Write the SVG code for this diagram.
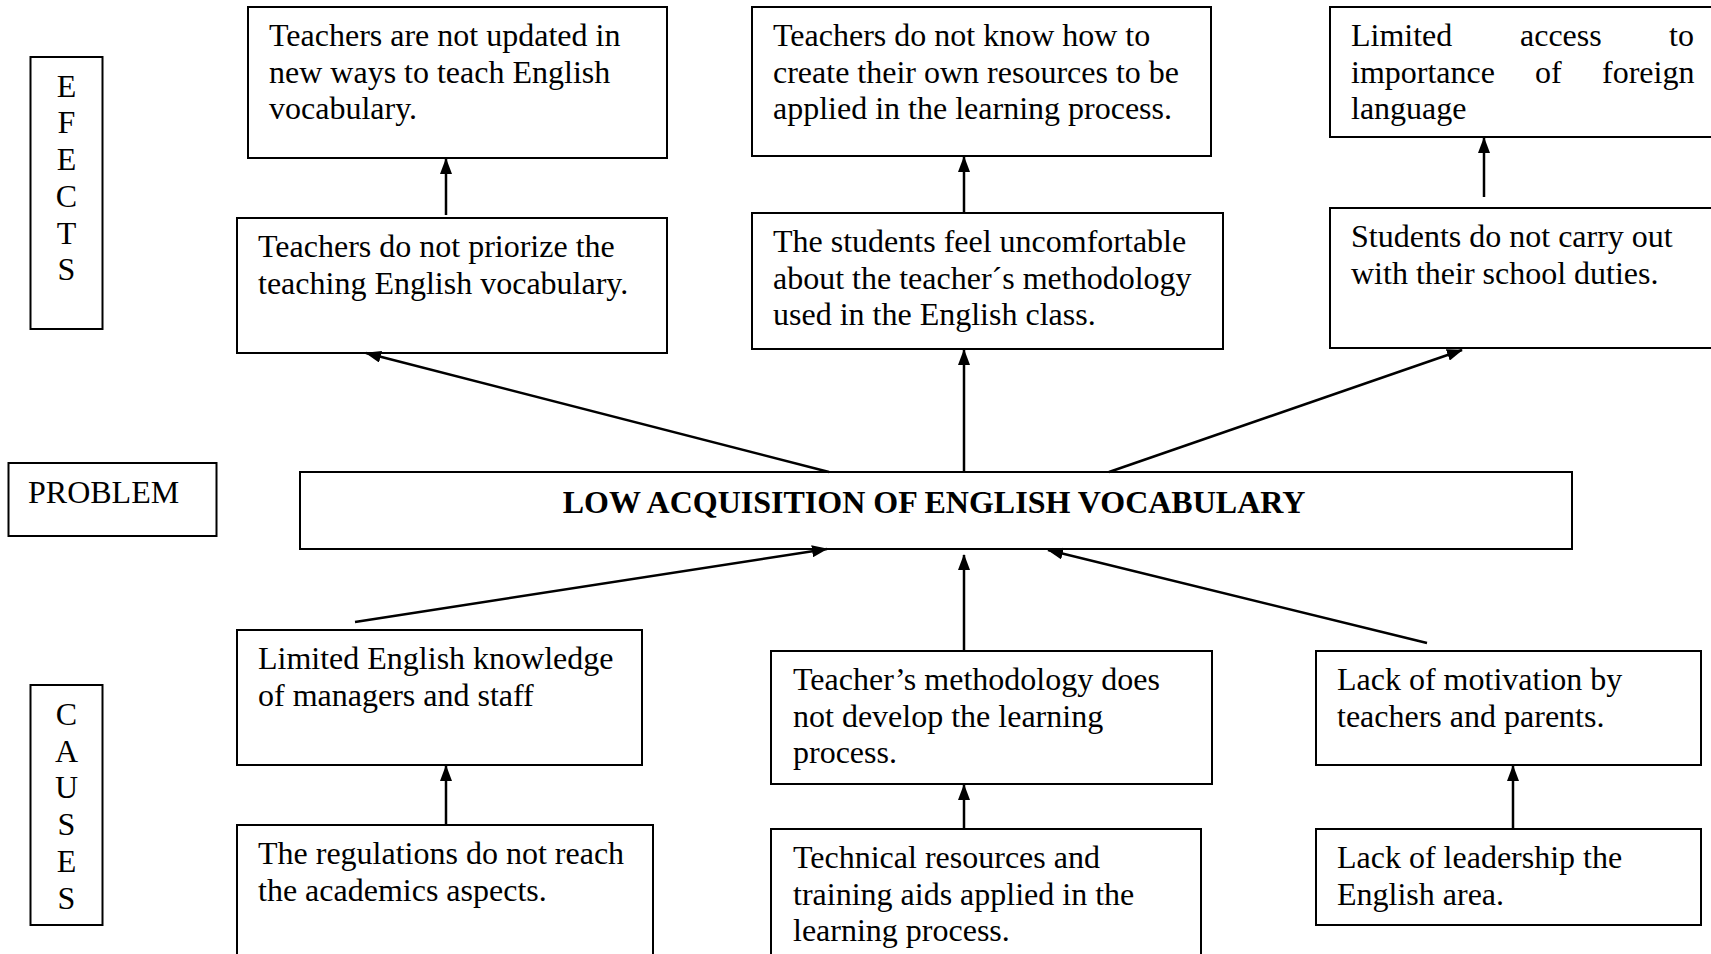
<svg xmlns="http://www.w3.org/2000/svg" width="1711" height="954" viewBox="0 0 1711 954">
<style>
.box{fill:#fff;stroke:#000;stroke-width:2}
text{font-family:"Liberation Serif","Times New Roman",serif;font-size:32px;fill:#000}
.b{font-weight:bold}
.m{text-anchor:middle}
.c{stroke:#000;stroke-width:2.5;fill:none;marker-end:url(#ah)}
</style>
<defs>
<marker id="ah" markerUnits="userSpaceOnUse" markerWidth="16" markerHeight="12" refX="15" refY="6" orient="auto">
<path d="M0,0 L16,6 L0,12 z" fill="#000"/>
</marker>
</defs>
<rect width="1711" height="954" fill="#fff"/>

<g id="label-efects">
<rect class="box" x="30.5" y="57" width="72" height="272"/>
<text class="m" x="66.5" y="96.7">E</text>
<text class="m" x="66.5" y="133.4">F</text>
<text class="m" x="66.5" y="170.1">E</text>
<text class="m" x="66.5" y="206.8">C</text>
<text class="m" x="66.5" y="243.5">T</text>
<text class="m" x="66.5" y="280.2">S</text>
</g>

<g id="label-problem">
<rect class="box" x="8.5" y="463" width="208" height="73"/>
<text x="28" y="503">PROBLEM</text>
</g>

<g id="label-causes">
<rect class="box" x="30.5" y="685" width="72" height="240"/>
<text class="m" x="66.5" y="725">C</text>
<text class="m" x="66.5" y="761.7">A</text>
<text class="m" x="66.5" y="798.4">U</text>
<text class="m" x="66.5" y="835.1">S</text>
<text class="m" x="66.5" y="871.8">E</text>
<text class="m" x="66.5" y="908.5">S</text>
</g>

<g id="effect-a1">
<rect class="box" x="248" y="7" width="419" height="151"/>
<text x="269" y="46">Teachers are not updated in</text>
<text x="269" y="82.7">new ways to teach English</text>
<text x="269" y="119.4">vocabulary.</text>
</g>

<g id="effect-a2">
<rect class="box" x="237" y="218" width="430" height="135"/>
<text x="258" y="257">Teachers do not priorize the</text>
<text x="258" y="293.7">teaching English vocabulary.</text>
</g>

<g id="effect-b1">
<rect class="box" x="752" y="7" width="459" height="149"/>
<text x="773" y="46">Teachers do not know how to</text>
<text x="773" y="82.7">create their own resources to be</text>
<text x="773" y="119.4">applied in the learning process.</text>
</g>

<g id="effect-b2">
<rect class="box" x="752" y="213" width="471" height="136"/>
<text x="773" y="252">The students feel uncomfortable</text>
<text x="773" y="288.7">about the teacher´s methodology</text>
<text x="773" y="325.4">used in the English class.</text>
</g>

<g id="effect-c1">
<rect class="box" x="1330" y="7" width="384" height="130"/>
<text y="46"><tspan x="1351">Limited</tspan><tspan x="1520">access</tspan><tspan x="1669">to</tspan></text>
<text y="82.7"><tspan x="1351">importance</tspan><tspan x="1535">of</tspan><tspan x="1602">foreign</tspan></text>
<text x="1351" y="119.4">language</text>
</g>

<g id="effect-c2">
<rect class="box" x="1330" y="208" width="384" height="140"/>
<text x="1351" y="247">Students do not carry out</text>
<text x="1351" y="283.7">with their school duties.</text>
</g>

<g id="problem">
<rect class="box" x="300" y="472" width="1272" height="77"/>
<text class="b m" x="934" y="513">LOW ACQUISITION OF ENGLISH VOCABULARY</text>
</g>

<g id="cause-d1">
<rect class="box" x="237" y="630" width="405" height="135"/>
<text x="258" y="669">Limited English knowledge</text>
<text x="258" y="705.7">of managers and staff</text>
</g>

<g id="cause-d2">
<rect class="box" x="237" y="825" width="416" height="140"/>
<text x="258" y="864">The regulations do not reach</text>
<text x="258" y="900.7">the academics aspects.</text>
</g>

<g id="cause-e1">
<rect class="box" x="771" y="651" width="441" height="133"/>
<text x="793" y="690">Teacher’s methodology does</text>
<text x="793" y="726.7">not develop the learning</text>
<text x="793" y="763.4">process.</text>
</g>

<g id="cause-e2">
<rect class="box" x="771" y="829" width="430" height="140"/>
<text x="793" y="868">Technical resources and</text>
<text x="793" y="904.7">training aids applied in the</text>
<text x="793" y="941.4">learning process.</text>
</g>

<g id="cause-f1">
<rect class="box" x="1316" y="651" width="385" height="114"/>
<text x="1337" y="690">Lack of motivation by</text>
<text x="1337" y="726.7">teachers and parents.</text>
</g>

<g id="cause-f2">
<rect class="box" x="1316" y="829" width="385" height="96"/>
<text x="1337" y="868">Lack of leadership the</text>
<text x="1337" y="904.7">English area.</text>
</g>

<g id="connectors">
<line class="c" x1="446" y1="215" x2="446" y2="159"/>
<line class="c" x1="964" y1="212" x2="964" y2="157"/>
<line class="c" x1="1484" y1="197" x2="1484" y2="138"/>
<line class="c" x1="829" y1="472" x2="366" y2="353"/>
<line class="c" x1="964" y1="472" x2="964" y2="350"/>
<line class="c" x1="1109" y1="472" x2="1462" y2="350"/>
<line class="c" x1="355" y1="622" x2="827" y2="549"/>
<line class="c" x1="964" y1="651" x2="964" y2="555"/>
<line class="c" x1="1427" y1="643" x2="1048" y2="550"/>
<line class="c" x1="446" y1="825" x2="446" y2="766"/>
<line class="c" x1="964" y1="829" x2="964" y2="785"/>
<line class="c" x1="1513" y1="829" x2="1513" y2="766"/>
</g>
</svg>
